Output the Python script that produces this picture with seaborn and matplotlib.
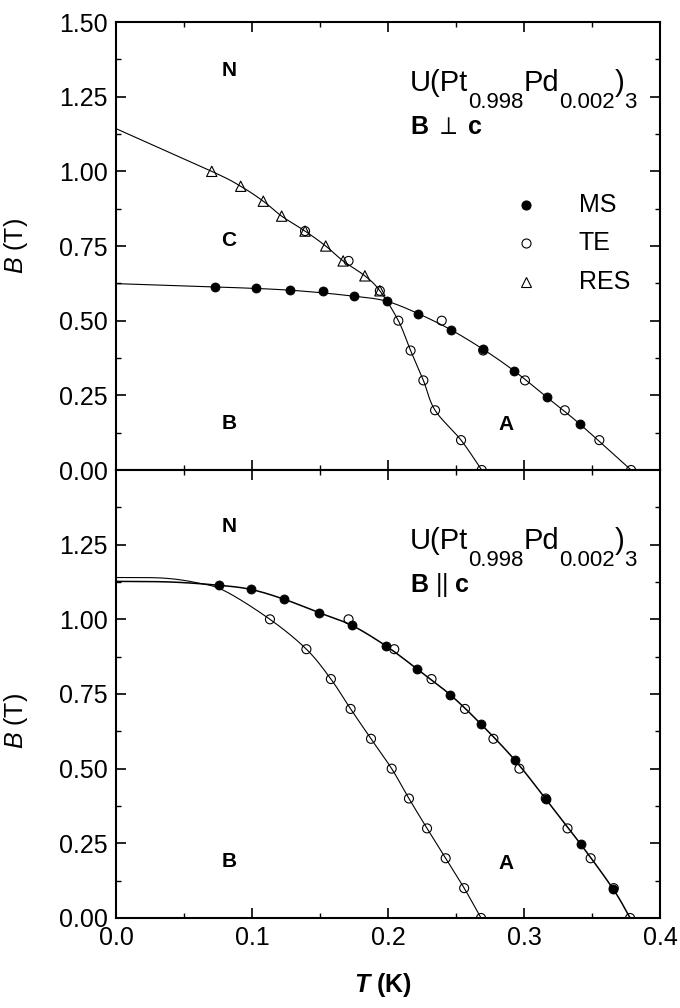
import numpy as np
import pandas as pd
import matplotlib
matplotlib.use("Agg")
import matplotlib.pyplot as plt
from matplotlib.ticker import FixedLocator, MultipleLocator
from matplotlib.transforms import offset_copy
import seaborn as sns

# ---------------- data ----------------
# B perpendicular to c
perp_ms_T = [0.073, 0.103, 0.128, 0.152, 0.175, 0.199, 0.222, 0.246, 0.270, 0.293, 0.317, 0.341]
perp_ms_B = [0.613, 0.610, 0.602, 0.598, 0.582, 0.565, 0.524, 0.470, 0.404, 0.331, 0.243, 0.154]

perp_te_T = [0.139, 0.171, 0.194,
             0.2076, 0.2166, 0.226, 0.2346, 0.2537, 0.2689,
             0.2395, 0.270, 0.3007, 0.330, 0.3554, 0.3787]
perp_te_B = [0.80, 0.70, 0.60,
             0.50, 0.40, 0.30, 0.20, 0.10, 0.00,
             0.50, 0.40, 0.30, 0.20, 0.10, 0.00]

perp_res_T = [0.0704, 0.0917, 0.1083, 0.1218, 0.139, 0.1542, 0.167, 0.183, 0.194]
perp_res_B = [1.00, 0.95, 0.90, 0.85, 0.80, 0.75, 0.70, 0.65, 0.60]

# phase boundaries, B perpendicular to c
perp_upper_T = [0.0, 0.0704, 0.0917, 0.1083, 0.1218, 0.139, 0.1542, 0.167, 0.183, 0.194,
                0.2076, 0.2166, 0.226, 0.2346, 0.2537, 0.2689]
perp_upper_B = [1.143, 1.00, 0.95, 0.90, 0.85, 0.80, 0.75, 0.70, 0.65, 0.60,
                0.50, 0.40, 0.30, 0.20, 0.10, 0.00]
perp_lower_T = [0.0, 0.073, 0.128, 0.175, 0.199, 0.222, 0.246, 0.270, 0.293, 0.317, 0.341, 0.3787]
perp_lower_B = [0.624, 0.613, 0.602, 0.582, 0.565, 0.524, 0.470, 0.404, 0.331, 0.243, 0.154, 0.0]

# B parallel to c
par_ms_T = [0.0757, 0.0993, 0.1238, 0.1495, 0.1733, 0.1985, 0.221, 0.2456, 0.2684,
            0.2934, 0.3162, 0.3417, 0.3657]
par_ms_B = [1.114, 1.100, 1.067, 1.022, 0.980, 0.911, 0.835, 0.748, 0.649,
            0.528, 0.397, 0.247, 0.096]

par_te_lo_T = [0.1132, 0.140, 0.158, 0.1725, 0.1875, 0.2027, 0.2154, 0.2287, 0.2424, 0.256, 0.2684]
par_te_hi_T = [0.171, 0.2046, 0.232, 0.2566, 0.2775, 0.2966, 0.316, 0.332, 0.349, 0.366, 0.378]
par_te_B = [1.0, 0.9, 0.8, 0.7, 0.6, 0.5, 0.4, 0.3, 0.2, 0.1, 0.0]

# phase boundaries, B parallel to c
par_outer_T = [0.0, 0.04] + par_ms_T + [0.378]
par_outer_B = [1.127, 1.125] + par_ms_B + [0.0]
par_inner_T = [0.0, 0.035, 0.06, 0.08] + par_te_lo_T
par_inner_B = [1.140, 1.138, 1.122, 1.095] + par_te_B

y_ticks = [0.0, 0.25, 0.5, 0.75, 1.0, 1.25, 1.5]
y_labels_top = ["0.00", "0.25", "0.50", "0.75", "1.00", "1.25", "1.50"]
y_labels_bot = ["0.00", "0.25", "0.50", "0.75", "1.00", "1.25", ""]
x_ticks = [0.0, 0.1, 0.2, 0.3, 0.4]
x_labels = ["0.0", "0.1", "0.2", "0.3", "0.4"]

# compound name: (text, is_subscript)
formula_parts = [("U(Pt", False), ("0.998", True), ("Pd", False), ("0.002", True),
                 (")", False), ("3", True)]

# ---------------- style ----------------
sns.set_theme(style="ticks")
plt.rcParams["font.family"] = ["Liberation Sans", "DejaVu Sans"]
plt.rcParams.update({
    "mathtext.fontset": "custom",
    "mathtext.rm": "Liberation Sans",
    "mathtext.it": "Liberation Sans:italic",
    "mathtext.bf": "Liberation Sans:bold",
    "mathtext.bfit": "Liberation Sans:italic:bold",
    "axes.linewidth": 1.5,
    "axes.edgecolor": "black",
    "text.color": "black",
    "axes.labelcolor": "black",
    "xtick.color": "black",
    "ytick.color": "black",
})


def catmull_rom(xs, ys, n=24):
    """Smooth curve through the given boundary nodes."""
    P = np.column_stack([xs, ys]).astype(float)
    P = np.vstack([2 * P[0] - P[1], P, 2 * P[-1] - P[-2]])
    pieces = []
    t = np.linspace(0, 1, n, endpoint=False)[:, None]
    for i in range(1, len(P) - 2):
        p0, p1, p2, p3 = P[i - 1], P[i], P[i + 1], P[i + 2]
        seg = 0.5 * (2 * p1 + (-p0 + p2) * t
                     + (2 * p0 - 5 * p1 + 4 * p2 - p3) * t ** 2
                     + (-p0 + 3 * p1 - 3 * p2 + p3) * t ** 3)
        pieces.append(seg)
    pieces.append(P[-2][None])
    c = np.vstack(pieces)
    return c[:, 0], c[:, 1]


def boundary(ax, xs, ys, lw=0.8):
    cx, cy = catmull_rom(xs, ys)
    sns.lineplot(x=cx, y=cy, sort=False, estimator=None, color="black", lw=lw, ax=ax)


def filled(ax, xs, ys, s=42):
    sns.scatterplot(x=xs, y=ys, marker="o", s=s, color="black", edgecolor="black",
                    linewidth=0.6, ax=ax, zorder=5)


def hollow(ax, xs, ys, marker="o", s=42):
    sns.scatterplot(x=xs, y=ys, marker=marker, s=s, facecolors="none", edgecolors="black",
                    linewidth=0.8, ax=ax, zorder=6)


def style_axis(ax, ylabels, show_x):
    ax.set_xlim(0, 0.4)
    ax.set_ylim(0, 1.5)
    ax.xaxis.set_major_locator(FixedLocator(x_ticks))
    ax.xaxis.set_minor_locator(MultipleLocator(0.05))
    ax.yaxis.set_major_locator(FixedLocator(y_ticks))
    ax.yaxis.set_minor_locator(MultipleLocator(0.125))
    ax.set_yticklabels(ylabels)
    if show_x:
        ax.set_xticklabels(x_labels)
    ax.tick_params(which="both", direction="in", top=True, right=True,
                   labelbottom=show_x, labelsize=18, colors="black")
    ax.tick_params(which="major", length=7, width=1.2, pad=6)
    ax.tick_params(which="minor", length=3.5, width=1.0)
    for sp in ax.spines.values():
        sp.set_visible(True)
        sp.set_linewidth(1.5)
        sp.set_color("black")


def formula(ax, x, y, renderer, size=21, sub_size=16, sub_drop=12):
    """Write the compound name piece by piece with lowered subscripts."""
    dx = 0.0
    for txt, is_sub in formula_parts:
        tr = offset_copy(ax.transData, fig=ax.figure, x=dx, y=-sub_drop if is_sub else 0,
                         units="points")
        t = ax.text(x, y, txt, fontsize=sub_size if is_sub else size,
                    ha="left", va="baseline", transform=tr)
        w = t.get_window_extent(renderer).width
        dx += w * 72.0 / ax.figure.dpi


fig = plt.figure(figsize=(6.8, 10.08), dpi=100)
ax1 = fig.add_axes([0.1706, 0.53373, 0.8, 0.44444])
ax2 = fig.add_axes([0.1706, 0.08929, 0.8, 0.44444])
renderer = fig.canvas.get_renderer()

# ---- upper panel: B perpendicular to c ----
boundary(ax1, perp_upper_T, perp_upper_B)
boundary(ax1, perp_lower_T, perp_lower_B)
filled(ax1, perp_ms_T, perp_ms_B)
hollow(ax1, perp_te_T, perp_te_B)
hollow(ax1, perp_res_T, perp_res_B, marker="^", s=55)
style_axis(ax1, y_labels_top, show_x=False)

for lab, tx, by in [("N", 0.083, 1.338), ("C", 0.083, 0.77), ("B", 0.083, 0.157), ("A", 0.287, 0.152)]:
    ax1.text(tx, by, lab, fontsize=15, fontweight="bold", ha="center", va="center")
formula(ax1, 0.216, 1.268, renderer)
ax1.text(0.216, 1.147, r"$\mathbf{B}$ $\perp$ $\mathbf{c}$", fontsize=18, ha="left", va="center")

# legend
leg_rows = [("MS", 0.5915, "o", "black"), ("TE", 0.507, "o", "none"), ("RES", 0.42, "^", "none")]
for name, yy, mk, fc in leg_rows:
    ax1.plot([0.753], [yy], marker=mk, ms=6.5 if mk == "o" else 7, mfc=fc, mec="black",
             mew=0.8, ls="none", transform=ax1.transAxes, clip_on=False)
    ax1.text(0.851, yy, name, fontsize=18, ha="left", va="center", transform=ax1.transAxes)

ax1.set_ylabel(r"$B$ (T)", fontsize=18)
ax1.yaxis.set_label_coords(-0.158, 0.5)
ax1.set_xlabel("")

# ---- lower panel: B parallel to c ----
boundary(ax2, par_outer_T, par_outer_B, lw=1.1)
boundary(ax2, par_inner_T, par_inner_B)
filled(ax2, par_ms_T, par_ms_B)
hollow(ax2, par_te_lo_T, par_te_B)
hollow(ax2, par_te_hi_T, par_te_B)
style_axis(ax2, y_labels_bot, show_x=True)

for lab, tx, by in [("N", 0.083, 1.31), ("B", 0.083, 0.188), ("A", 0.287, 0.183)]:
    ax2.text(tx, by, lab, fontsize=15, fontweight="bold", ha="center", va="center")
formula(ax2, 0.216, 1.236, renderer)
ax2.text(0.216, 1.114, r"$\mathbf{B}$ || $\mathbf{c}$", fontsize=18, ha="left", va="center")

ax2.set_ylabel(r"$B$ (T)", fontsize=18)
ax2.yaxis.set_label_coords(-0.158, 0.44)
ax2.set_xlabel(r"$\mathbfit{T}$ (K)", fontsize=18, fontweight="bold")
ax2.xaxis.label.set_va("center")
ax2.xaxis.set_label_coords(0.49, -0.15)

fig.savefig("out.png", dpi=100)
